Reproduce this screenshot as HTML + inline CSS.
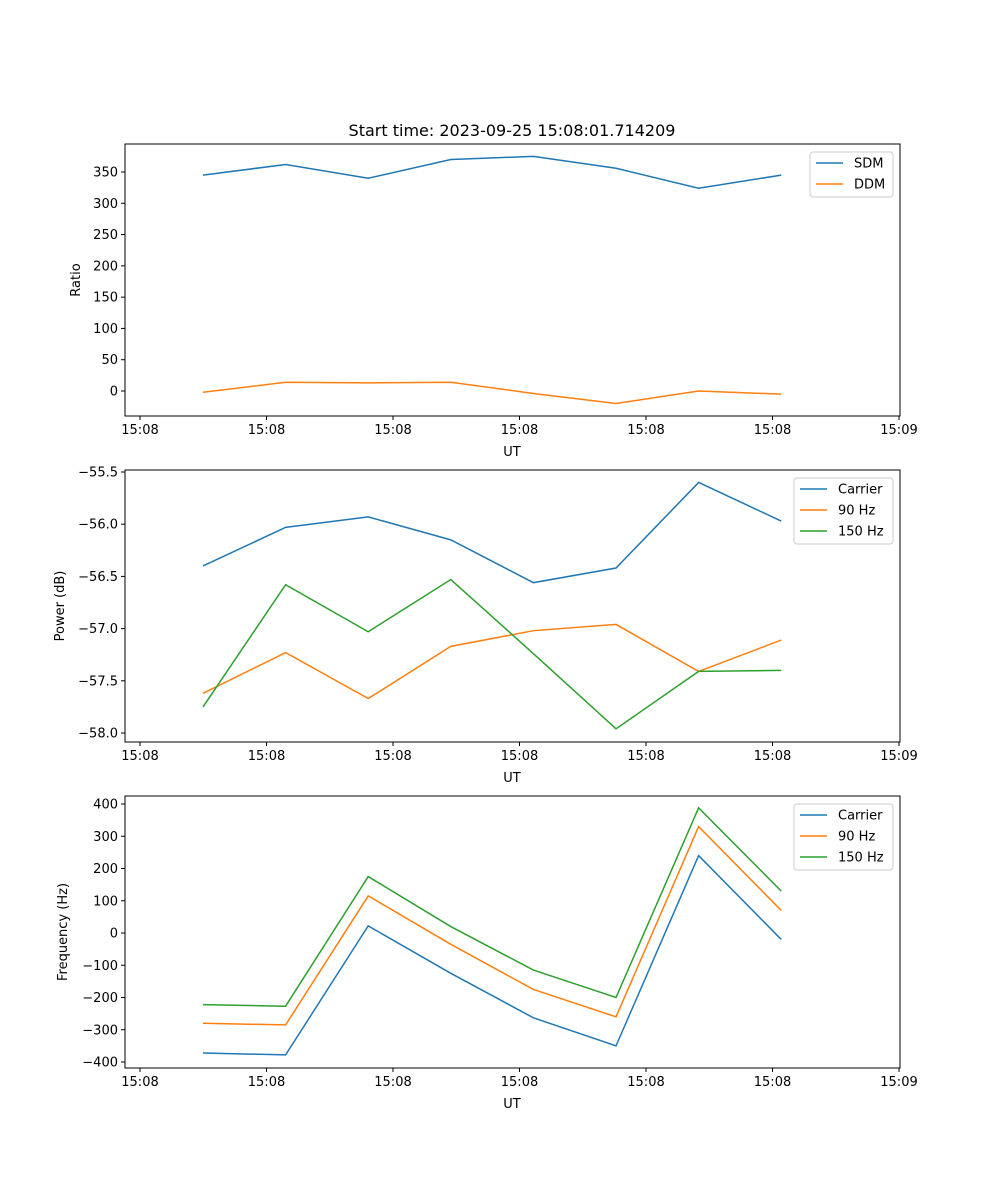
<!DOCTYPE html>
<html><head><meta charset="utf-8"><style>
body{margin:0;background:#fff}
svg{display:block;font-family:"DejaVu Sans","Liberation Sans",sans-serif}
</style></head><body>
<svg id="fig" width="1000" height="1200"></svg>
<script>
const times=[4.98,11.51,18.04,24.57,31.10,37.63,44.16,50.69];
const xTickVals=[0,10,20,30,40,50,60];
const xTickLabels=["15:08","15:08","15:08","15:08","15:08","15:08","15:09"];
const sdm=[345,362,340,370,375,356,324,345];
const ddm=[-2,14,13,14,-4,-20,0,-5];
const pCarrier=[-56.40,-56.03,-55.93,-56.15,-56.56,-56.42,-55.60,-55.97];
const p90=[-57.62,-57.23,-57.67,-57.17,-57.02,-56.96,-57.41,-57.11];
const p150=[-57.75,-56.58,-57.03,-56.53,-57.24,-57.96,-57.41,-57.40];
const fCarrier=[-372,-378,22,-125,-263,-350,240,-20];
const f90=[-280,-285,115,-35,-175,-260,330,70];
const f150=[-222,-227,175,20,-115,-200,388,130];
const ticks1=[0,50,100,150,200,250,300,350];
const ticks2=[-58.0,-57.5,-57.0,-56.5,-56.0,-55.5];
const ticks3=[-400,-300,-200,-100,0,100,200,300,400];
const C=["#1f77b4","#ff7f0e","#2ca02c"];
const NS="http://www.w3.org/2000/svg";
const svg=document.getElementById('fig');
function el(t,a,p){const e=document.createElementNS(NS,t);for(const k in a)e.setAttribute(k,a[k]);(p||svg).appendChild(e);return e;}
const xs=v=>140+(v/60)*759;
function panel(name,top,bot,v0,y0,v1,y1,yt,fmt,ylabel,series,names,legW,title){
  const g=el('g',{});
  
  
  const ys=v=>y0+(v-v0)*(y1-y0)/(v1-v0);
  if(title){const t=el('text',{x:512,y:136,'font-size':16,'text-anchor':'middle'},g);t.textContent=title;
    }
  xTickVals.forEach((v,i)=>{const x=xs(v);el('line',{x1:x,x2:x,y1:bot,y2:bot+4,stroke:'#000'},g);
    const t=el('text',{x:x,y:bot+18,'font-size':13,'text-anchor':'middle'},g);t.textContent=xTickLabels[i];
    });
  const xl=el('text',{x:512,y:bot+40,'font-size':13,'text-anchor':'middle'},g);xl.textContent='UT';
  
  yt.forEach(v=>{const y=ys(v);el('line',{x1:121,x2:125,y1:y,y2:y,stroke:'#000'},g);
    const t=el('text',{x:118,y:y+4.5,'font-size':13,'text-anchor':'end'},g);t.textContent=fmt(v);
    });
  const yl=el('text',{x:0,y:0,'font-size':13,'text-anchor':'middle',transform:`translate(${ylabel[1]},${(top+bot)/2}) rotate(-90)`},g);
  yl.textContent=ylabel[0];
  series.forEach((s,i)=>{const p=el('polyline',{points:s.map((v,j)=>xs(times[j])+','+ys(v)).join(' '),fill:'none',stroke:C[i],'stroke-width':1.5},g);
    });
  el('rect',{x:125,y:top,width:775,height:bot-top,fill:'none',stroke:'#000','stroke-width':1},g);
  const lx=893-legW, ly=top+8, lh=3+names.length*21;
  const lg=el('g',{},g);
  el('rect',{x:lx,y:ly,width:legW,height:lh,rx:3,fill:'#fff',stroke:'#ccc'},lg);
  names.forEach((n,i)=>{const y=ly+11+i*21;el('line',{x1:lx+6,x2:lx+33,y1:y,y2:y,stroke:C[i],'stroke-width':1.5},lg);
    const t=el('text',{x:lx+44,y:y+4.5,'font-size':13},lg);t.textContent=n;
    });
}
panel('ratio-panel',144,416,0,391,350,172,ticks1,v=>String(v),['Ratio',80],[sdm,ddm],['SDM','DDM'],83,'Start time: 2023-09-25 15:08:01.714209');
panel('power-panel',470,742,-55.5,472,-58.0,733,ticks2,v=>'\u2212'+Math.abs(v).toFixed(1),['Power (dB)',64],[pCarrier,p90,p150],['Carrier','90 Hz','150 Hz'],99);
panel('frequency-panel',796,1068,400,804,-400,1062,ticks3,v=>(v<0?'\u2212':'')+Math.abs(v),['Frequency (Hz)',67],[fCarrier,f90,f150],['Carrier','90 Hz','150 Hz'],99);
</script>
</body></html>
